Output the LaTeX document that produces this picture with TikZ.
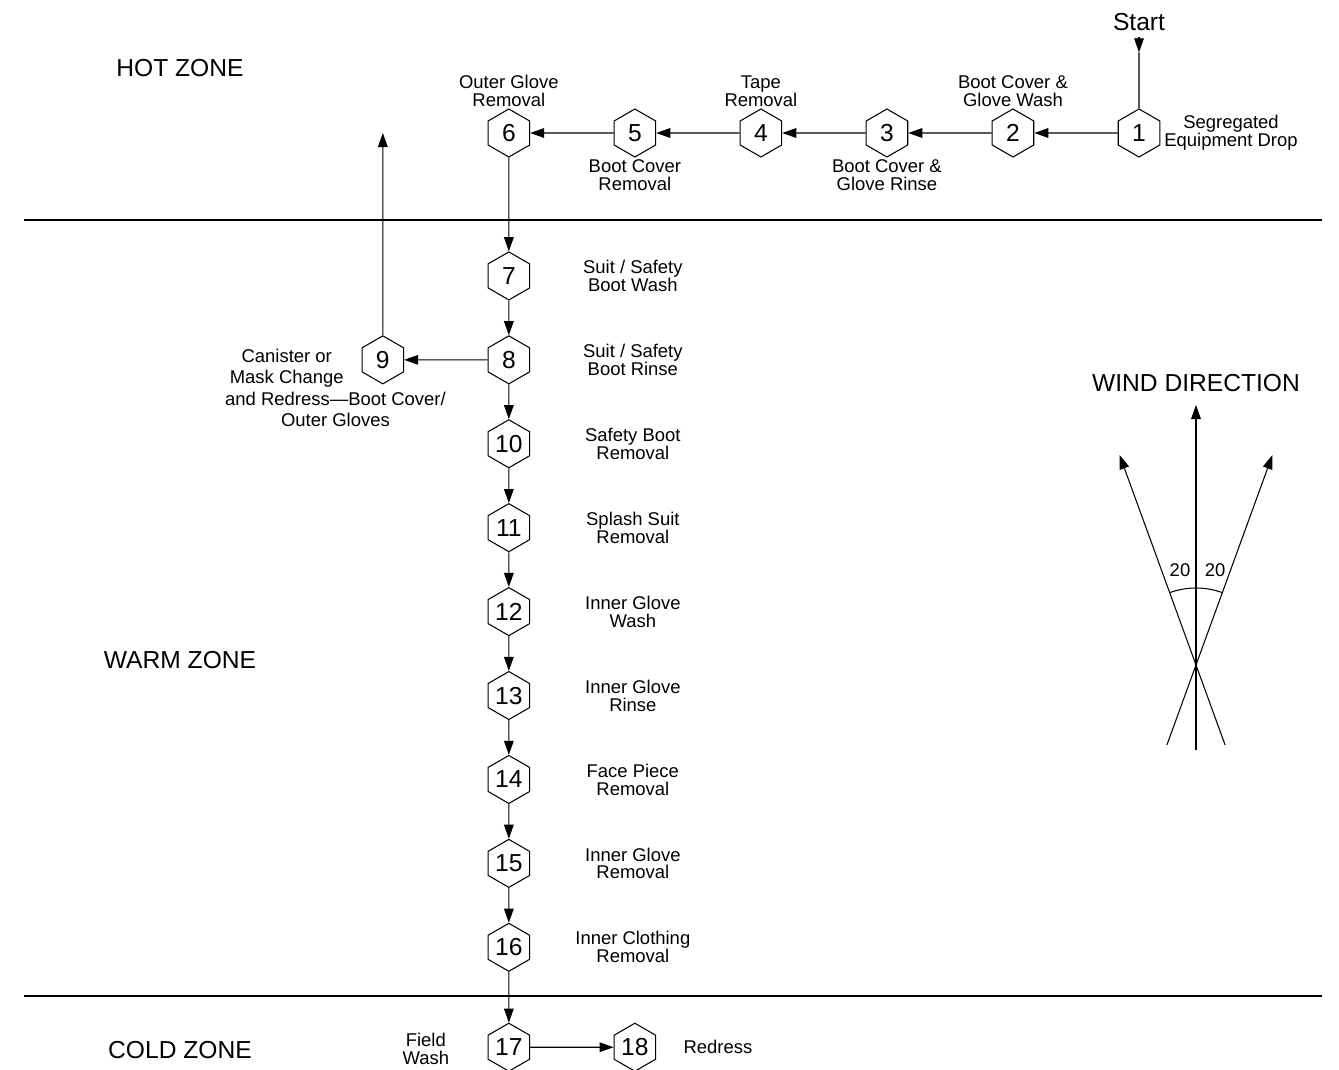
\documentclass[tikz,border=0pt]{standalone}
\usepackage{fontspec}
\setmainfont{Liberation Sans}
\usetikzlibrary{arrows.meta,positioning,calc,shapes.geometric}

\begin{document}
\begin{tikzpicture}[
  hexa/.style={draw, regular polygon, regular polygon sides=6, shape border rotate=30, minimum size=0.96cm, inner sep=0pt, line width=0.6pt, font=\fontsize{14}{16}\selectfont},
  lbl/.style={align=center, inner sep=1pt, font=\fontsize{10.5}{10.2}\selectfont},
  zone/.style={font=\fontsize{14}{16}\selectfont},
  arr/.style={-{Triangle[length=8pt,width=5.5pt]}, line width=0.6pt},
  rule/.style={line width=1.2pt},
  node distance=1.668cm
]
  \useasboundingbox (0,0) rectangle (26.78,-21.4);

  % zones
  \node[zone] (hot) at (3.6,-1.36) {HOT ZONE};
  \node[zone] (warm) at (3.6,-13.2) {WARM ZONE};
  \node[zone] (cold) at (3.6,-21.0) {COLD ZONE};
  \draw[rule] (0.48,-4.4) -- (26.44,-4.4);
  \draw[rule] (0.48,-19.92) -- (26.44,-19.92);

  % hot zone
  \node[zone] (start) at (22.78,-0.44) {Start};
  \node[hexa] (h1) at (22.78,-2.66) {1};
  \node[hexa, left=of h1] (h2) {2};
  \node[hexa, left=of h2] (h3) {3};
  \node[hexa, left=of h3] (h4) {4};
  \node[hexa, left=of h4] (h5) {5};
  \node[hexa, left=of h5] (h6) {6};

  \node[lbl] (l1) at ([xshift=1.84cm]h1) {Segregated\\Equipment Drop};
  \node[lbl, above=0pt of h2] (l2) {Boot Cover \&\\Glove Wash};
  \node[lbl, below=0pt of h3] (l3) {Boot Cover \&\\Glove Rinse};
  \node[lbl, above=0pt of h4] (l4) {Tape\\Removal};
  \node[lbl, below=0pt of h5] (l5) {Boot Cover\\Removal};
  \node[lbl, above=0pt of h6] (l6) {Outer Glove\\Removal};

  % warm zone
  \node[hexa, below=1.874cm of h6] (h7) {7};
  \node[hexa, below=0.694cm of h7] (h8) {8};
  \node[hexa, left=of h8] (h9) {9};
  \node[hexa, below=0.694cm of h8] (h10) {10};
  \node[hexa, below=0.694cm of h10] (h11) {11};
  \node[hexa, below=0.694cm of h11] (h12) {12};
  \node[hexa, below=0.694cm of h12] (h13) {13};
  \node[hexa, below=0.694cm of h13] (h14) {14};
  \node[hexa, below=0.694cm of h14] (h15) {15};
  \node[hexa, below=0.694cm of h15] (h16) {16};
  \coordinate (out9) at (h9 |- h6);

  \node[lbl] (l7) at ([xshift=2.48cm]h7) {Suit / Safety\\Boot Wash};
  \node[lbl] (l8) at ([xshift=2.48cm]h8) {Suit / Safety\\Boot Rinse};
  \node[lbl, anchor=east, font=\fontsize{10.5}{12.3}\selectfont] (l9) at ([xshift=1.30cm,yshift=-0.56cm]h9) {Canister or\phantom{Boot Cover/}\\Mask Change\phantom{Boot Cover/}\\and Redress---Boot Cover/\\Outer Gloves};
  \node[lbl] (l10) at ([xshift=2.48cm]h10) {Safety Boot\\Removal};
  \node[lbl] (l11) at ([xshift=2.48cm]h11) {Splash Suit\\Removal};
  \node[lbl] (l12) at ([xshift=2.48cm]h12) {Inner Glove\\Wash};
  \node[lbl] (l13) at ([xshift=2.48cm]h13) {Inner Glove\\Rinse};
  \node[lbl] (l14) at ([xshift=2.48cm]h14) {Face Piece\\Removal};
  \node[lbl] (l15) at ([xshift=2.48cm]h15) {Inner Glove\\Removal};
  \node[lbl] (l16) at ([xshift=2.48cm]h16) {Inner Clothing\\Removal};

  % cold zone
  \node[hexa, below=1.014cm of h16] (h17) {17};
  \node[hexa, right=of h17] (h18) {18};
  \node[lbl] (l17) at ([xshift=-1.66cm,yshift=-0.04cm]h17) {Field\\Wash};
  \node[lbl] (l18) at ([xshift=1.66cm]h18) {Redress};

  % flow
  \coordinate (sttip) at ([yshift=-0.31cm]start.south);
  \draw[arr] (start) -- (sttip);
  \draw[line width=0.6pt] (sttip) -- (h1);
  \draw[arr] (h1) -- (h2);
  \draw[arr] (h2) -- (h3);
  \draw[arr] (h3) -- (h4);
  \draw[arr] (h4) -- (h5);
  \draw[arr] (h5) -- (h6);
  \draw[arr] (h6) -- (h7);
  \draw[arr] (h7) -- (h8);
  \draw[arr] (h8) -- (h9);
  \draw[arr] (h9) -- (out9);
  \draw[arr] (h8) -- (h10);
  \draw[arr] (h10) -- (h11);
  \draw[arr] (h11) -- (h12);
  \draw[arr] (h12) -- (h13);
  \draw[arr] (h13) -- (h14);
  \draw[arr] (h14) -- (h15);
  \draw[arr] (h15) -- (h16);
  \draw[arr] (h16) -- (h17);
  \draw[arr] (h17) -- (h18);

  % wind direction
  \node[zone] (wind) at (23.92,-7.66) {WIND DIRECTION};
  \coordinate (wc) at (23.92,-13.3);
  \coordinate (wmid) at ($(wc)+(90:5.2)$);
  \coordinate (wmidb) at ($(wc)+(270:1.7)$);
  \coordinate (wleft) at ($(wc)+(110:4.47)$);
  \coordinate (wleftb) at ($(wc)+(290:1.7)$);
  \coordinate (wright) at ($(wc)+(70:4.47)$);
  \coordinate (wrightb) at ($(wc)+(250:1.7)$);
  \coordinate (warc) at ($(wc)+(70:1.54)$);
  \draw[arr] (wmidb) -- (wmid);
  \draw[arr] (wleftb) -- (wleft);
  \draw[arr] (wrightb) -- (wright);
  \draw[line width=0.6pt] (warc) arc[start angle=70, end angle=110, radius=1.54cm];
  \node[lbl] (ang1) at ($(wc)+(-0.32,1.9)$) {20};
  \node[lbl] (ang2) at ($(wc)+(0.38,1.9)$) {20};
\end{tikzpicture}
\end{document}
